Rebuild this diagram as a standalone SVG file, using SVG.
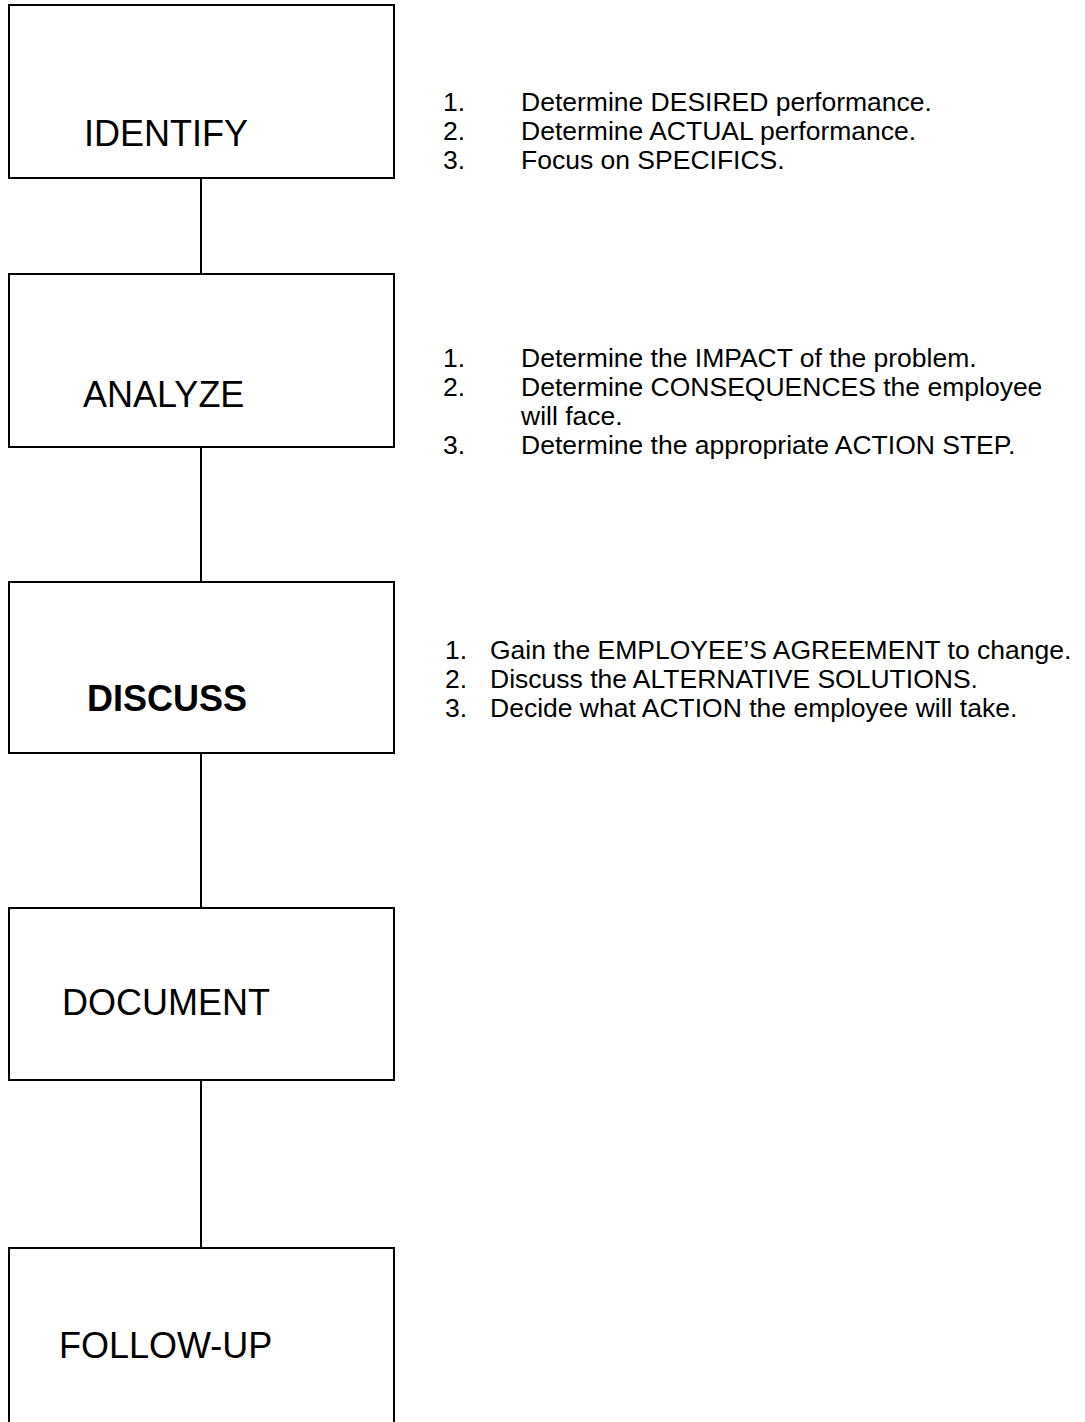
<svg xmlns="http://www.w3.org/2000/svg" width="1085" height="1422" viewBox="0 0 1085 1422">
  <style>
    .box { fill: #ffffff; stroke: #000000; stroke-width: 2; }
    .link { stroke: #000000; stroke-width: 2; fill: none; }
    .label { font-family: "Liberation Sans", Arial, sans-serif; font-size: 36px; fill: #000000; }
    .bold { font-weight: bold; }
    .note { font-family: "Liberation Sans", Arial, sans-serif; font-size: 26.5px; fill: #000000; }
  </style>
  <rect width="1085" height="1422" fill="#ffffff"/>

  <!-- vertical links between steps -->
  <g id="connectors">
    <line class="link" x1="201" y1="178" x2="201" y2="274"/>
    <line class="link" x1="201" y1="447" x2="201" y2="582"/>
    <line class="link" x1="201" y1="753" x2="201" y2="908"/>
    <line class="link" x1="201" y1="1080" x2="201" y2="1248"/>
  </g>

  <g id="identify">
    <rect class="box" x="9" y="5" width="385" height="173"/>
    <text class="label" x="84" y="146">IDENTIFY</text>
  </g>

  <g id="analyze">
    <rect class="box" x="9" y="274" width="385" height="173"/>
    <text class="label" x="83" y="407">ANALYZE</text>
  </g>

  <g id="discuss">
    <rect class="box" x="9" y="582" width="385" height="171"/>
    <text class="label bold" x="87" y="711">DISCUSS</text>
  </g>

  <g id="document">
    <rect class="box" x="9" y="908" width="385" height="172"/>
    <text class="label" x="62" y="1015">DOCUMENT</text>
  </g>

  <g id="follow-up">
    <rect class="box" x="9" y="1248" width="385" height="200"/>
    <text class="label" x="59" y="1358">FOLLOW-UP</text>
  </g>

  <!-- step notes -->
  <g id="identify-notes" class="note">
    <text x="443" y="111">1.</text><text x="521" y="111">Determine DESIRED performance.</text>
    <text x="443" y="140">2.</text><text x="521" y="140">Determine ACTUAL performance.</text>
    <text x="443" y="169">3.</text><text x="521" y="169">Focus on SPECIFICS.</text>
  </g>

  <g id="analyze-notes" class="note">
    <text x="443" y="367">1.</text><text x="521" y="367">Determine the IMPACT of the problem.</text>
    <text x="443" y="396">2.</text><text x="521" y="396">Determine CONSEQUENCES the employee</text>
    <text x="521" y="425">will face.</text>
    <text x="443" y="454">3.</text><text x="521" y="454">Determine the appropriate ACTION STEP.</text>
  </g>

  <g id="discuss-notes" class="note">
    <text x="445" y="659">1.</text><text x="490" y="659">Gain the EMPLOYEE’S AGREEMENT to change.</text>
    <text x="445" y="688">2.</text><text x="490" y="688">Discuss the ALTERNATIVE SOLUTIONS.</text>
    <text x="445" y="717">3.</text><text x="490" y="717">Decide what ACTION the employee will take.</text>
  </g>
</svg>
